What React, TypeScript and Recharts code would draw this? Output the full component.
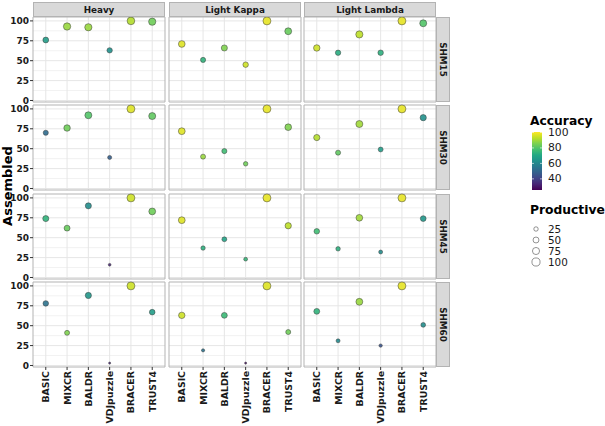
import React from "react";
import {
  CartesianGrid,
  ReferenceArea,
  Scatter,
  ScatterChart,
  XAxis,
  YAxis,
  ZAxis,
} from "recharts";

const TOOLS = ["BASIC", "MIXCR", "BALDR", "VDJpuzzle", "BRACER", "TRUST4"];
const CHAINS = ["Heavy", "Light Kappa", "Light Lambda"];
const SHM_LEVELS = ["SHM15", "SHM30", "SHM45", "SHM60"];
const Y_TICKS = [0, 25, 50, 75, 100];
const Y_MINOR = [12.5, 37.5, 62.5, 87.5];
const ACCURACY_TICKS = [40, 60, 80, 100];
const PRODUCTIVE_TICKS = [25, 50, 75, 100];

// [shm level][chain][tool]
const ASSEMBLED = [
  [[76, 93, 92, 63, 100, 99], [71, 51, 66, 45, 100, 87], [66, 60, 83, 60, 100, 97]],
  [[70, 76, 92, 39, 100, 91], [72, 40, 47, 31, 100, 77], [64, 45, 81, 49, 100, 89]],
  [[74, 62, 90, 16, 100, 83], [72, 37, 48, 23, 100, 65], [58, 36, 75, 32, 100, 74]],
  [[78, 41, 88, 3, 100, 67], [63, 19, 63, 3, 100, 42], [68, 31, 80, 25, 100, 51]],
];

const ACCURACY = [
  [[67, 89, 89, 63, 92, 84], [97, 74, 86, 95, 98, 83], [95, 72, 93, 73, 98, 80]],
  [[52, 84, 80, 48, 97, 82], [97, 89, 77, 84, 98, 86], [92, 82, 90, 67, 98, 63]],
  [[74, 83, 62, 34, 95, 84], [97, 73, 69, 75, 98, 93], [77, 73, 90, 62, 98, 65]],
  [[54, 86, 65, 33, 95, 67], [95, 54, 76, 29, 97, 84], [74, 61, 89, 45, 98, 62]],
];

const PRODUCTIVE = [
  [[48, 80, 78, 40, 88, 78], [66, 36, 54, 42, 96, 70], [61, 40, 76, 42, 96, 72]],
  [[36, 62, 72, 20, 95, 73], [68, 34, 36, 26, 96, 65], [56, 35, 73, 32, 96, 56]],
  [[53, 50, 54, 6, 95, 68], [68, 25, 32, 17, 96, 58], [43, 26, 66, 19, 95, 47]],
  [[43, 34, 55, 1, 95, 44], [60, 10, 49, 1, 96, 34], [49, 19, 70, 12, 96, 30]],
];

// layout
const FONT = "'DejaVu Sans', sans-serif";
const PANEL_LEFT = [33, 169, 304];
const PANEL_TOP = [17, 105, 194, 282];
const PANEL_W = 132;
const PANEL_H = 85;
const Y_AXIS_W = 33;
const X_AXIS_H = 62;
const PAD = 7; // room so the 0 / 100 labels are not clipped
const X_DOMAIN: [number, number] = [0.4, 6.6];
const Y_DOMAIN: [number, number] = [-1.9, 104.9];
const ACC_MIN = 25.6;
const ACC_MAX = 100.6;
const Z_RANGE: [number, number] = [3, 52];

const VIRIDIS = [
  "#440154", "#482475", "#414487", "#355f8d", "#2a788e", "#21918c",
  "#22a884", "#44bf70", "#7ad151", "#bddf26", "#fde725",
];

function hexToRgb(h: string) {
  return [1, 3, 5].map((i) => parseInt(h.slice(i, i + 2), 16));
}

function viridis(v: number) {
  const t = Math.min(1, Math.max(0, (v - ACC_MIN) / (ACC_MAX - ACC_MIN)));
  const p = t * (VIRIDIS.length - 1);
  const i = Math.min(VIRIDIS.length - 2, Math.floor(p));
  const f = p - i;
  const a = hexToRgb(VIRIDIS[i]);
  const b = hexToRgb(VIRIDIS[i + 1]);
  const c = a.map((x, k) => Math.round(x + (b[k] - x) * f));
  return `rgb(${c[0]},${c[1]},${c[2]})`;
}

function zRadius(v: number) {
  const area = Z_RANGE[0] + ((Z_RANGE[1] - Z_RANGE[0]) * v) / 100;
  return Math.sqrt(area / Math.PI);
}

function AccuracyDot(props: any) {
  const { cx, cy, payload } = props;
  const r = props.width != null ? props.width / 2 : Math.sqrt((props.size ?? 20) / Math.PI);
  return (
    <circle
      cx={cx}
      cy={cy}
      r={r}
      fill={viridis(payload.accuracy)}
      fillOpacity={0.9}
      stroke="#3a3a3a"
      strokeWidth={0.5}
    />
  );
}

function ToolTick(props: any) {
  const { x, y, payload } = props;
  return (
    <text
      x={x}
      y={y}
      transform={`rotate(-90 ${x} ${y})`}
      textAnchor="end"
      dominantBaseline="central"
      fontFamily={FONT}
      fontWeight="bold"
      fontSize={9.4}
      fill="#1a1a1a"
    >
      {TOOLS[payload.value - 1]}
    </text>
  );
}

const axisTick = { fontFamily: FONT, fontWeight: "bold" as const, fontSize: 9, fill: "#1a1a1a" };

function Panel({ row, col }: { row: number; col: number }) {
  const data = TOOLS.map((tool, i) => ({
    tool,
    xi: i + 1,
    assembled: ASSEMBLED[row][col][i],
    accuracy: ACCURACY[row][col][i],
    productive: PRODUCTIVE[row][col][i],
  }));
  const showY = col === 0;
  const showX = row === SHM_LEVELS.length - 1;
  const yW = showY ? Y_AXIS_W : 0;
  const xH = showX ? X_AXIS_H : 0;

  return (
    <div style={{ position: "absolute", left: PANEL_LEFT[col] - yW - 1, top: PANEL_TOP[row] - PAD }}>
      <ScatterChart
        width={PANEL_W + yW + 2}
        height={PANEL_H + xH + PAD * 2}
        margin={{ top: PAD, right: 1, bottom: PAD, left: 1 }}
      >
        <CartesianGrid horizontalValues={Y_MINOR} vertical={false} stroke="#f2f2f2" />
        <CartesianGrid horizontalValues={Y_TICKS} verticalValues={[1, 2, 3, 4, 5, 6]} stroke="#e6e6e6" />
        <XAxis
          type="number"
          dataKey="xi"
          domain={X_DOMAIN}
          ticks={[1, 2, 3, 4, 5, 6]}
          interval={0}
          hide={!showX}
          height={X_AXIS_H}
          axisLine={false}
          tickLine={{ stroke: "#333" }}
          tickSize={3}
          tickMargin={1}
          tick={<ToolTick />}
        />
        <YAxis
          type="number"
          dataKey="assembled"
          domain={Y_DOMAIN}
          ticks={Y_TICKS}
          interval={0}
          hide={!showY}
          width={Y_AXIS_W}
          axisLine={false}
          tickLine={{ stroke: "#333" }}
          tickSize={3}
          tickMargin={1}
          tick={axisTick}
        />
        <ZAxis type="number" dataKey="productive" domain={[0, 100]} range={Z_RANGE} />
        <ReferenceArea
          x1={X_DOMAIN[0]}
          x2={X_DOMAIN[1]}
          y1={Y_DOMAIN[0]}
          y2={Y_DOMAIN[1]}
          fill="none"
          stroke="#b3b3b3"
          strokeWidth={1}
          ifOverflow="visible"
        />
        <Scatter data={data} isAnimationActive={false} shape={<AccuracyDot />} />
      </ScatterChart>
    </div>
  );
}

function barPos(v: number) {
  return 132 + ((ACC_MAX - v) / (ACC_MAX - ACC_MIN)) * 58;
}

function Annotations() {
  return (
    <svg
      width={605}
      height={426}
      style={{ position: "absolute", left: 0, top: 0, pointerEvents: "none" }}
    >
      <defs>
        <linearGradient id="viridisBar" x1="0" y1="1" x2="0" y2="0">
          {VIRIDIS.map((c, i) => (
            <stop key={c} offset={i / (VIRIDIS.length - 1)} stopColor={c} />
          ))}
        </linearGradient>
      </defs>

      {CHAINS.map((chain, c) => (
        <g key={chain}>
          <rect x={PANEL_LEFT[c] + 0.5} y={2.5} width={PANEL_W - 1} height={14} fill="#d9d9d9" stroke="#b3b3b3" />
          <text
            x={PANEL_LEFT[c] + PANEL_W / 2}
            y={9.8}
            textAnchor="middle"
            dominantBaseline="central"
            fontFamily={FONT}
            fontWeight="bold"
            fontSize={8.8}
            fill="#1a1a1a"
          >
            {chain}
          </text>
        </g>
      ))}

      {SHM_LEVELS.map((shm, r) => {
        const cx = 443;
        const cy = PANEL_TOP[r] + PANEL_H / 2;
        return (
          <g key={shm}>
            <rect x={436.5} y={PANEL_TOP[r] + 0.5} width={13} height={PANEL_H - 1} fill="#d9d9d9" stroke="#b3b3b3" />
            <text
              x={cx}
              y={cy}
              transform={`rotate(90 ${cx} ${cy})`}
              textAnchor="middle"
              dominantBaseline="central"
              fontFamily={FONT}
              fontWeight="bold"
              fontSize={8.8}
              fill="#1a1a1a"
            >
              {shm}
            </text>
          </g>
        );
      })}

      <text
        x={7.5}
        y={186}
        transform="rotate(-90 7.5 186)"
        textAnchor="middle"
        dominantBaseline="central"
        fontFamily={FONT}
        fontWeight="bold"
        fontSize={13}
        fill="#000"
      >
        Assembled
      </text>

      {/* Accuracy colourbar */}
      <text x={530} y={124.5} fontFamily={FONT} fontWeight="bold" fontSize={12.3} fill="#000">
        Accuracy
      </text>
      <rect x={532} y={132} width={10} height={58} fill="url(#viridisBar)" />
      {ACCURACY_TICKS.map((v) => (
        <g key={v}>
          <line x1={532} x2={534} y1={barPos(v)} y2={barPos(v)} stroke="#fff" strokeWidth={0.6} />
          <line x1={540} x2={542} y1={barPos(v)} y2={barPos(v)} stroke="#fff" strokeWidth={0.6} />
          <text x={548} y={barPos(v)} dominantBaseline="central" fontFamily={FONT} fontSize={10.8} fill="#1a1a1a">
            {v}
          </text>
        </g>
      ))}

      {/* Productive size legend */}
      <text x={530} y={214} fontFamily={FONT} fontWeight="bold" fontSize={12.3} fill="#000">
        Productive
      </text>
      {PRODUCTIVE_TICKS.map((v, i) => (
        <g key={v}>
          <circle cx={536} cy={229 + i * 11} r={zRadius(v)} fill="none" stroke="#4d4d4d" strokeWidth={0.6} />
          <text x={548} y={229 + i * 11} dominantBaseline="central" fontFamily={FONT} fontSize={10.4} fill="#1a1a1a">
            {v}
          </text>
        </g>
      ))}
    </svg>
  );
}

export default function App() {
  return (
    <div style={{ position: "absolute", left: 0, top: 0, width: 605, height: 426, background: "#fff" }}>
      {SHM_LEVELS.map((_, r) => CHAINS.map((__, c) => <Panel key={`${r}-${c}`} row={r} col={c} />))}
      <Annotations />
    </div>
  );
}
